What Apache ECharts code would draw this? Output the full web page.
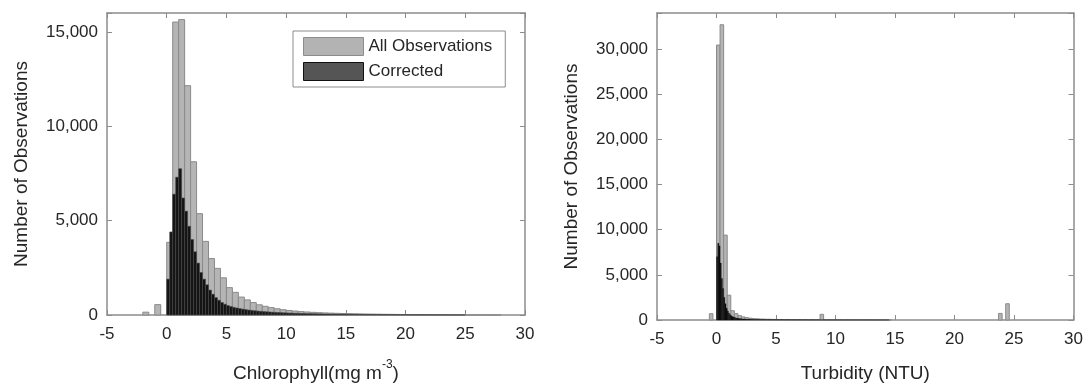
<!DOCTYPE html>
<html><head><meta charset="utf-8">
<script src="https://cdn.jsdelivr.net/npm/echarts@6/dist/echarts.min.js"></script>
<style>html,body{margin:0;padding:0;background:#fff}#c{width:1086px;height:388px}</style>
</head><body><div id="c"></div>
<script>
// ---- Data ----
const xTickInterval = 5;
const yTickInterval = 5000;

// Chlorophyll, all observations (bins of 0.5 starting at -2)
const chlAllStart = -2, chlAllWidth = 0.5;
const chlAllCounts = [150, 0, 550, 0, 3850, 15520, 15650, 12150, 8120, 5370, 3900, 2990, 2470, 1970, 1450, 1200,
  950, 800, 660, 540, 460, 390, 330, 280,
  240, 210, 180, 160, 140, 125, 110, 100, 90, 80, 72, 65, 58, 52, 47, 42,
  38, 34, 30, 27, 24, 22, 20, 18, 16, 14, 12, 11, 10, 9, 8, 7, 6, 5, 4, 3];

// Chlorophyll, corrected (bins of 0.25 starting at 0)
const chlCorrStart = 0, chlCorrWidth = 0.25;
const chlCorrCounts = [1900, 4400, 6400, 7300, 7750, 6200, 5500, 4700, 4000, 3350, 2750, 2250,
  1900, 1600, 1320, 1100, 920, 780, 660, 570, 500, 450, 405, 370, 340, 310, 285, 262, 242, 224, 208, 194,
  181, 169, 158, 148, 139, 130, 122, 115, 108, 102, 96, 90, 85, 80, 76, 72,
  68, 64, 60, 57, 54, 51, 48, 45, 43, 41, 39, 37, 35, 33, 31, 29,
  28, 26, 25, 24, 23, 22, 21, 20, 19, 18, 17, 16, 15, 14, 13, 12,
  12, 11, 10, 10, 9, 9, 8, 8, 7, 7, 6, 6, 5, 5, 5, 4, 4, 4, 3, 3];

// Turbidity, all observations (bins of 0.3 starting at -0.6)
const turbAllStart = -0.6, turbAllWidth = 0.3;
const turbAllCounts = [700, 0, 30450, 32700, 9400, 2750, 1030, 700, 480, 340, 260, 200,
  160, 130, 110, 95, 82, 72, 64, 57, 51, 46, 41, 37, 34, 31, 28, 26, 24, 22, 20,
  625, 19, 18, 17, 16, 15, 15, 14, 13, 13, 12, 12, 11, 11, 10, 10, 9, 9, 8, 8,
  0, 0, 0, 0, 0, 0, 0, 0, 0, 0, 0, 0, 0, 0, 0, 0, 0, 0, 0, 0, 0, 0, 0, 0, 0, 0, 0, 0, 0, 0,
  730, 0, 1800];

// Turbidity, corrected (fine bins of 0.1 from 0 to 3, then 0.5 bins to 14.5)
const turbCorrStart = 0, turbCorrWidth = 0.1;
const turbCorrCounts = [7000, 8500, 8200, 6300, 4600, 3500, 2500, 1800, 1300, 1000, 750, 580, 460, 380, 320,
  270, 230, 200, 175, 155, 138, 124, 112, 101, 92, 84, 77, 71, 65, 60];
const turbCorrTailStart = 3, turbCorrTailWidth = 0.5;
const turbCorrTailCounts = [55, 48, 42, 37, 33, 29, 26, 23, 21, 19, 17, 15, 14, 13, 12, 11, 10, 9, 9, 8, 8, 7, 7];

// ---- Build ----
function bins(start, width, counts) {
  const out = [];
  counts.forEach((c, i) => { if (c > 0) out.push([start + i * width, start + (i + 1) * width, c]); });
  return out;
}
function renderer(fill, stroke, lw) {
  return function (params, api) {
    const a = api.coord([api.value(0), api.value(2)]);
    const b = api.coord([api.value(1), 0]);
    return { type: 'rect', shape: { x: a[0], y: a[1], width: b[0] - a[0], height: b[1] - a[1] },
      style: { fill: fill, stroke: stroke, lineWidth: lw } };
  };
}
const FONT = 'Liberation Sans, Arial, Helvetica, sans-serif';
const TXT = '#262626';
const AX = '#8c8c8c';
const grayFill = '#b5b5b5', grayEdge = '#8a8a8a';

function xAxes(gi, name, rich) {
  const common = { gridIndex: gi, type: 'value', min: -5, max: 30, interval: xTickInterval,
    axisLine: { onZero: false, lineStyle: { color: AX, width: 1.5 } },
    axisTick: { inside: true, length: 5, lineStyle: { color: AX } },
    splitLine: { show: false } };
  return [
    Object.assign({}, common, { position: 'bottom',
      axisLabel: { color: TXT, fontSize: 17, fontFamily: FONT, margin: 11 },
      name: name, nameLocation: 'middle', nameGap: 44,
      nameTextStyle: { color: TXT, fontSize: 19, fontFamily: FONT, rich: rich } }),
    Object.assign({}, common, { position: 'top', axisLabel: { show: false } })
  ];
}
function yAxes(gi, max) {
  const common = { gridIndex: gi, type: 'value', min: 0, max: max, interval: yTickInterval,
    axisLine: { show: true, onZero: false, lineStyle: { color: AX, width: 1.5 } },
    axisTick: { show: true, inside: true, length: 5, lineStyle: { color: AX } },
    splitLine: { show: false } };
  return [
    Object.assign({}, common, { position: 'left',
      axisLabel: { color: TXT, fontSize: 17, fontFamily: FONT, margin: 9,
        formatter: v => (v % yTickInterval === 0 ? v.toLocaleString('en-US') : '') },
      name: 'Number of Observations', nameLocation: 'middle', nameGap: 76,
      nameTextStyle: { color: TXT, fontSize: 19, fontFamily: FONT } }),
    Object.assign({}, common, { position: 'right', axisLabel: { show: false } })
  ];
}

const option = {
  backgroundColor: '#fff',
  animation: false,
  grid: [
    { left: 107, top: 13, width: 418, height: 308.5 },
    { left: 657, top: 13, width: 418, height: 308 }
  ],
  xAxis: [...xAxes(0, '{a|Chlorophyll(mg m}{s|-3}{a|)}',
            { a: { fontSize: 19, fontFamily: FONT, color: TXT, lineHeight: 24, verticalAlign: 'bottom' },
              s: { fontSize: 12, fontFamily: FONT, color: TXT, lineHeight: 24, verticalAlign: 'top' } }),
          ...xAxes(1, 'Turbidity (NTU)')],
  yAxis: [...yAxes(0, 16000), ...yAxes(1, 34000)],
  legend: {
    orient: 'vertical', left: 293, top: 31,
    itemWidth: 60, itemHeight: 18, itemGap: 6,
    padding: [6, 13, 6, 10],
    borderColor: AX, borderWidth: 1, backgroundColor: '#fff',
    textStyle: { color: TXT, fontSize: 17, fontFamily: FONT },
    data: [
      { name: 'All Observations', icon: 'rect', itemStyle: { color: '#b3b3b3', borderColor: '#8c8c8c', borderWidth: 1 } },
      { name: 'Corrected', icon: 'rect', itemStyle: { color: '#555555', borderColor: '#111111', borderWidth: 1 } }
    ]
  },
  series: [
    { type: 'custom', name: 'All Observations', xAxisIndex: 0, yAxisIndex: 0,
      encode: { x: [0, 1], y: 2 }, itemStyle: { color: grayFill },
      renderItem: renderer(grayFill, grayEdge, 1), data: bins(chlAllStart, chlAllWidth, chlAllCounts) },
    { type: 'custom', name: 'Corrected', xAxisIndex: 0, yAxisIndex: 0,
      encode: { x: [0, 1], y: 2 }, itemStyle: { color: '#555' },
      renderItem: renderer('#141414', '#4a4a4a', 0.6), data: bins(chlCorrStart, chlCorrWidth, chlCorrCounts) },
    { type: 'custom', name: 'All Observations', xAxisIndex: 2, yAxisIndex: 2,
      encode: { x: [0, 1], y: 2 }, itemStyle: { color: grayFill },
      renderItem: renderer(grayFill, grayEdge, 1), data: bins(turbAllStart, turbAllWidth, turbAllCounts) },
    { type: 'custom', name: 'Corrected', xAxisIndex: 2, yAxisIndex: 2,
      encode: { x: [0, 1], y: 2 }, itemStyle: { color: '#555' },
      renderItem: renderer('#0d0d0d', '#0d0d0d', 0.3),
      data: bins(turbCorrStart, turbCorrWidth, turbCorrCounts).concat(bins(turbCorrTailStart, turbCorrTailWidth, turbCorrTailCounts)) }
  ]
};
const chart = echarts.init(document.getElementById('c'), null, { renderer: 'canvas' });
chart.setOption(option);
</script></body></html>
